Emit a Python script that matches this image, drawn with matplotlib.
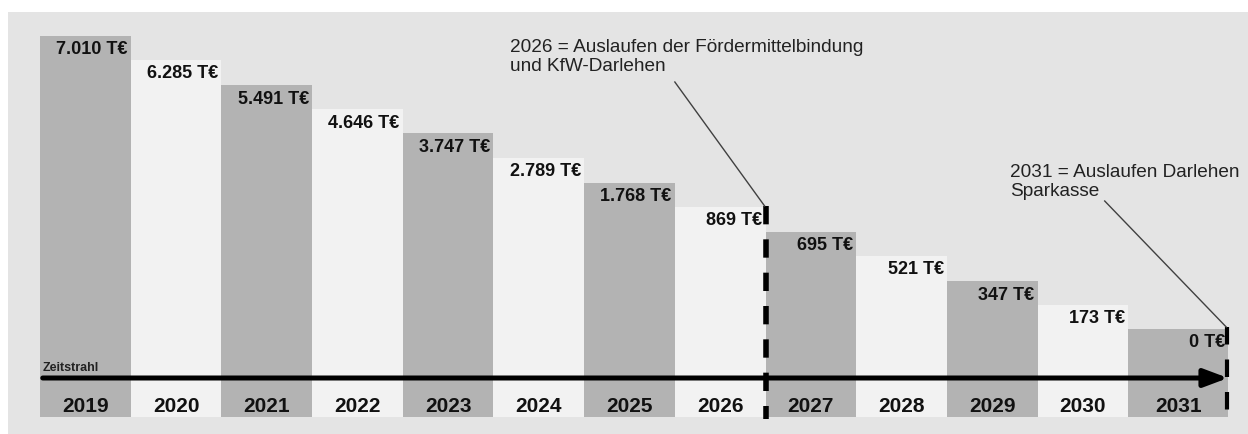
import matplotlib.pyplot as plt

plt.rcParams['font.family'] = ['Liberation Sans', 'DejaVu Sans']

# data
years = ['2019', '2020', '2021', '2022', '2023', '2024', '2025',
         '2026', '2027', '2028', '2029', '2030', '2031']
labels = ['7.010 T€', '6.285 T€', '5.491 T€', '4.646 T€', '3.747 T€', '2.789 T€',
          '1.768 T€', '869 T€', '695 T€', '521 T€', '347 T€', '173 T€', '0 T€']
# step heights of the bars (the bars are a staircase, not to scale)
levels = [381, 357, 332, 308, 284, 259, 234, 210, 185, 161, 136, 112, 88]

note1 = '2026 = Auslaufen der Fördermittelbindung\nund KfW-Darlehen'
note2 = '2031 = Auslaufen Darlehen\nSparkasse'

dark = '#b3b3b3'
light = '#f2f2f2'
bg = '#e4e4e4'

fig = plt.figure(figsize=(12.48, 4.35), dpi=100)
ax = fig.add_axes([8 / 1248, 0, 1240 / 1248, 422 / 435])
ax.set_facecolor(bg)

x = list(range(len(years)))
widths = [1.0] * (len(years) - 1) + [1.1]
colors = [dark if i % 2 == 0 else light for i in x]
ax.bar(x, levels, width=widths, align='edge', color=colors, edgecolor='none')

# value labels (top right inside each bar) and year labels
for i in x:
    right = i + widths[i]
    ax.text(right - 0.035, levels[i] - 13, labels[i], ha='right', va='center',
            fontsize=13, fontweight='bold', color='#111111')
    ax.text(i + widths[i] / 2, 11, years[i], ha='center', va='center',
            fontsize=15, fontweight='bold', color='#111111')

# timeline
ax.annotate('', xy=(13.1, 39), xytext=(0.03, 39),
            arrowprops=dict(arrowstyle='-|>,head_length=0.72,head_width=0.27',
                            lw=3.6, color='black', shrinkA=0, shrinkB=0,
                            mutation_scale=20))
ax.text(0.03, 44, 'Zeitstrahl', fontsize=9, fontweight='bold',
        ha='left', va='bottom', color='#222222')

# dashed markers for end of funding / loans
ax.plot([8, 8], [211, -2], color='black', lw=4, linestyle=(0, (3.3, 2.7)))
ax.plot([13.09, 13.09], [90, -2], color='black', lw=3, linestyle=(0, (4.2, 3.6)))

# notes with leader lines
ax.text(5.18, 361, note1, fontsize=13.7, ha='left', va='center',
        color='#222222', linespacing=1.2)
ax.plot([7.0, 7.99], [335, 211], color='#404040', lw=1)
ax.text(10.7, 236, note2, fontsize=13.7, ha='left', va='center',
        color='#222222', linespacing=1.2)
ax.plot([11.74, 13.08], [216, 90], color='#404040', lw=1)

ax.set_xlim(-0.353, 13.32)
ax.set_ylim(-17, 405)
ax.set_xticks([])
ax.set_yticks([])
for s in ax.spines.values():
    s.set_visible(False)

fig.savefig('out.png', dpi=100)
